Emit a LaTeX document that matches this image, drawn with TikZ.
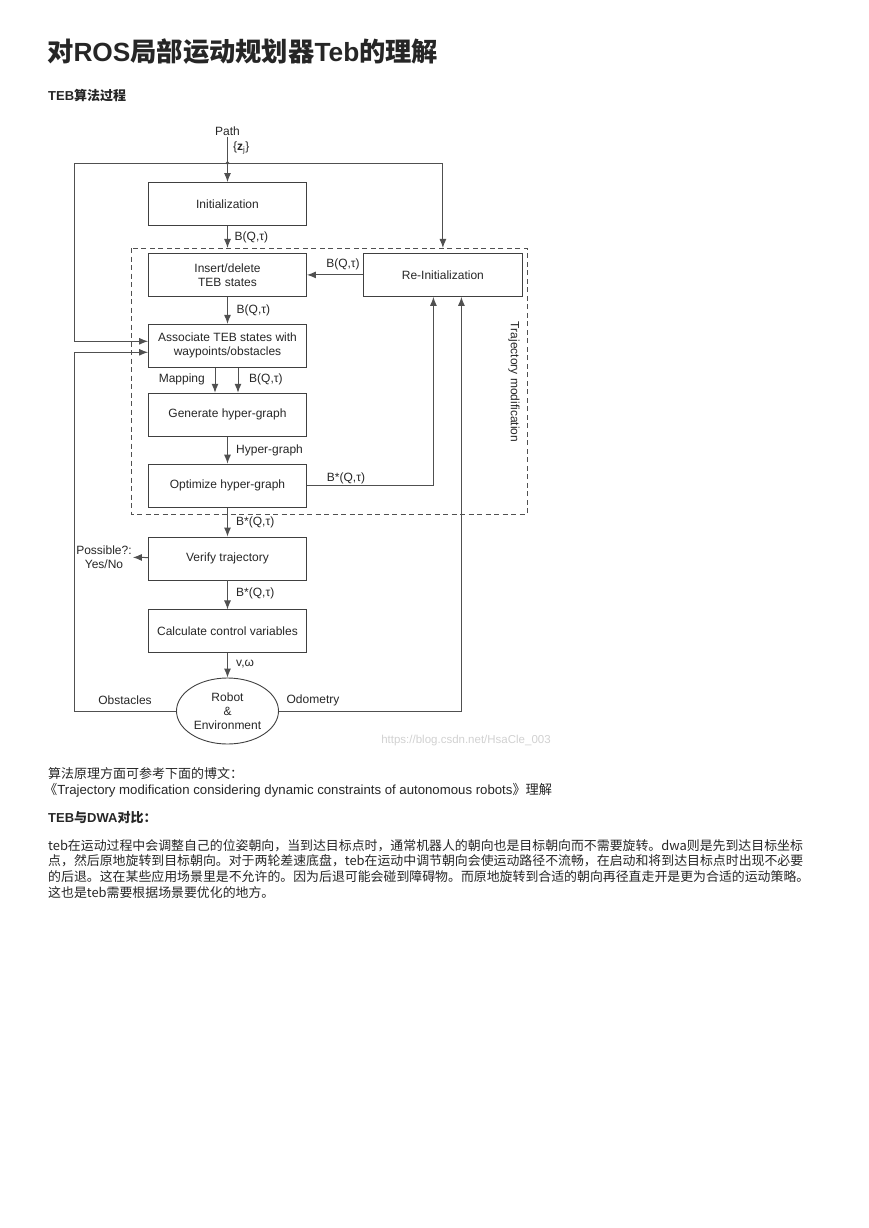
\documentclass[tikz,border=0pt]{standalone}
\usepackage{fontspec}
\setmainfont{Liberation Sans}
\newfontfamily\cjk{Noto Sans CJK SC}
\usetikzlibrary{positioning,arrows.meta,shapes.geometric}
\definecolor{linegray}{HTML}{505050}
\definecolor{boxgray}{HTML}{404040}
\definecolor{txtgray}{HTML}{262626}
\tikzset{
	box/.style={draw=boxgray,line width=0.9pt,minimum width=158pt,minimum height=43pt,inner sep=2pt,align=center,text=txtgray,font=\fontsize{12}{14}\selectfont},
	lbl/.style={inner sep=1pt,text=txtgray,font=\fontsize{12}{14}\selectfont},
	arr/.style={-{Latex[length=9pt,width=7pt]},draw=linegray,line width=1pt},
	wire/.style={draw=linegray,line width=1pt},
	bodytxt/.style={anchor=west,inner sep=0pt,text=black!85,align=left},
}
\begin{document}
\begin{tikzpicture}[x=1pt,y=-1pt]
	\useasboundingbox (0,0) rectangle (868,1228);
	% headings
	\node[bodytxt,font=\fontsize{26.3}{30}\selectfont\bfseries] (title) at (47,52) {{\cjk 对}ROS{\cjk 局部运动规划器}Teb{\cjk 的理解}};
	\node[bodytxt,font=\fontsize{13}{15}\selectfont\bfseries] (sub) at (48,96) {TEB{\cjk 算法过程}};
	
	% flow chart
	\node[lbl] (path) at (227.5,131) {Path};
	\coordinate (junc) at (227.5,163);
	\coordinate (lft) at (74,163);
	\coordinate (obs) at (74,711);
	\node[lbl,anchor=west] (zj) at (232,148) {\{\textbf{z}\textsubscript{j}\}};
	\node[box] (init) at (227.5,204) {Initialization};
	\node[box,below=27pt of init] (insert) {Insert/delete\\TEB states};
	\node[box,right=56pt of insert,minimum width=159pt] (reinit) {Re-Initialization};
	\node[box,below=27pt of insert] (assoc) {Associate TEB states with\\waypoints/obstacles};
	\node[box,below=25pt of assoc] (gen) {Generate hyper-graph};
	\node[box,below=27pt of gen] (opt) {Optimize hyper-graph};
	\node[box,below=29pt of opt] (verify) {Verify trajectory};
	\node[box,below=29pt of verify] (calc) {Calculate control variables};
	\node[ellipse,draw=boxgray,line width=0.9pt,inner sep=0pt,minimum width=102pt,minimum height=66pt,align=center,text=txtgray,font=\fontsize{12}{14}\selectfont] (robot) at (227.5,711) {Robot\\\&\\Environment};
	\node[lbl,align=center] (poss) at (104,557) {Possible?:\\Yes/No};
	
	% dashed frame
	\draw[draw=linegray,line width=0.9pt,dash pattern=on 5pt off 3.5pt] (131,248) rectangle (527,514);
	\node[lbl,rotate=-90] (traj) at (514,382) {Trajectory modification};
	
	% connectors
	\draw[wire] (path) -- (junc);
	\fill[linegray] (junc) circle (1.8);
	\draw[arr] (junc) -- (init);
	\draw[arr,shorten >=5pt] (junc) -| (reinit.north);
	\draw[arr] (junc) -- (lft) |- ([yshift=4.5pt]assoc.west);
	\draw[arr,shorten >=5pt] (init) -- (insert);
	\draw[arr] (reinit) -- (insert);
	\draw[arr] (insert) -- (assoc);
	\draw[arr] ([xshift=-12.5pt]assoc.south) -- ([xshift=-12.5pt]gen.north);
	\draw[arr] ([xshift=10.5pt]assoc.south) -- ([xshift=10.5pt]gen.north);
	\draw[arr] (gen) -- (opt);
	\draw[arr] (opt.east) -| ([xshift=-9.5pt]reinit.south);
	\draw[arr] (opt) -- (verify);
	\draw[arr] (verify) -- (poss);
	\draw[arr] (verify) -- (calc);
	\draw[arr] (calc) -- (robot);
	\draw[arr] (robot.west) -- (obs) |- ([yshift=-6.5pt]assoc.west);
	\draw[arr] (robot.east) -| ([xshift=18.5pt]reinit.south);
	
	% connector labels
	\node[lbl,anchor=west,shift={(6,11)}] (b1) at (init.south) {B(Q,τ)};
	\node[lbl,anchor=west,shift={(8,14)}] (b2) at (insert.south) {B(Q,τ)};
	\node[lbl,anchor=south] (b3) at (343,271) {B(Q,τ)};
	\node[lbl,anchor=east] (map) at (206,379) {Mapping};
	\node[lbl,anchor=west] (b4) at (248,379) {B(Q,τ)};
	\node[lbl,anchor=west] (hg) at (235,450) {Hyper-graph};
	\node[lbl,anchor=south] (b5) at (346,485) {B*(Q,τ)};
	\node[lbl,anchor=west] (b6) at (235,522) {B*(Q,τ)};
	\node[lbl,anchor=west] (b7) at (235,593) {B*(Q,τ)};
	\node[lbl,anchor=west] (vw) at (235,664) {v,ω};
	\node[lbl] (obst) at (125,700) {Obstacles};
	\node[lbl] (odom) at (313,700) {Odometry};
	\node[text=black!18,inner sep=0pt,font=\fontsize{11.5}{13}\selectfont] (wm) at (466,741) {https://blog.csdn.net/HsaCle\_003};
	
	% text below
	\node[bodytxt,font=\fontsize{13}{15}\selectfont\cjk] (ref1) at (48,774) {算法原理方面可参考下面的博文：};
	\node[bodytxt,font=\fontsize{13.2}{15}\selectfont] (ref2) at (44,790) {{\cjk 《}Trajectory modification considering dynamic constraints of autonomous robots{\cjk 》理解}};
	\node[bodytxt,font=\fontsize{13}{15}\selectfont\bfseries] (cmp) at (48,818) {TEB{\cjk 与}DWA{\cjk 对比：}};
	\node[bodytxt,anchor=north west,font=\fontsize{12.9}{15.8}\selectfont\cjk] (para) at (48,839) {teb在运动过程中会调整自己的位姿朝向，当到达目标点时，通常机器人的朝向也是目标朝向而不需要旋转。dwa则是先到达目标坐标\\点，然后原地旋转到目标朝向。对于两轮差速底盘，teb在运动中调节朝向会使运动路径不流畅，在启动和将到达目标点时出现不必要\\的后退。这在某些应用场景里是不允许的。因为后退可能会碰到障碍物。而原地旋转到合适的朝向再径直走开是更为合适的运动策略。\\这也是teb需要根据场景要优化的地方。};
\end{tikzpicture}
\end{document}
